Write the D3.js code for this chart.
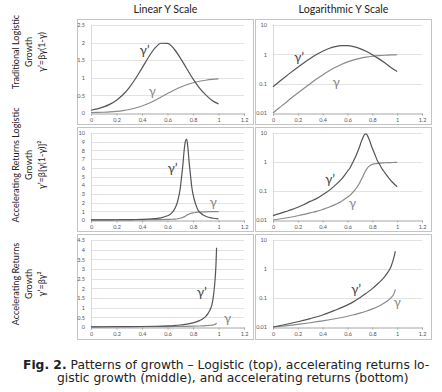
<!DOCTYPE html>
<html>
<head>
<meta charset="utf-8">
<script src="https://cdn.jsdelivr.net/npm/d3@7"></script>
<style>
  body { margin: 0; background: #fff; }
  svg text { fill: #222; }
</style>
</head>
<body>
<svg id="fig" width="442" height="392"></svg>
<script>
// x ticks shared by every panel
var xTicks = [0, 0.2, 0.4, 0.6, 0.8, 1, 1.2];
var logTicks = [0.01, 0.1, 1, 10];
var linTicks1 = [0, 0.5, 1, 1.5, 2, 2.5];
var linTicks2 = [0, 1, 2, 3, 4, 5, 6, 7, 8, 9, 10];
var linTicks3 = [0, 0.5, 1, 1.5, 2, 2.5, 3, 3.5, 4, 4.5];

// traditional logistic growth
var logX  = [0, 0.05, 0.1, 0.15, 0.2, 0.25, 0.3, 0.35, 0.4, 0.45, 0.5, 0.55, 0.6, 0.65, 0.7, 0.75, 0.8, 0.85, 0.9, 0.95, 1];
var logY  = [0.01, 0.015, 0.022, 0.033, 0.048, 0.07, 0.1, 0.143, 0.199, 0.27, 0.356, 0.452, 0.552, 0.648, 0.733, 0.803, 0.859, 0.901, 0.931, 0.953, 0.968];
var logDY = [0.079, 0.117, 0.173, 0.252, 0.364, 0.518, 0.723, 0.979, 1.275, 1.577, 1.834, 1.982, 1.978, 1.825, 1.566, 1.266, 0.969, 0.714, 0.514, 0.358, 0.26];

// accelerating returns logistic growth
var arlX  = [0, 0.05, 0.1, 0.15, 0.2, 0.25, 0.3, 0.35, 0.4, 0.45, 0.5, 0.55, 0.6, 0.62, 0.64, 0.66, 0.68, 0.7, 0.71, 0.72, 0.73, 0.74, 0.75, 0.76, 0.77, 0.78, 0.79, 0.8, 0.82, 0.84, 0.86, 0.88, 0.9, 0.93, 0.96, 1];
var arlY  = [0.01, 0.0108, 0.0117, 0.0127, 0.014, 0.0156, 0.0177, 0.0198, 0.0231, 0.0274, 0.034, 0.0434, 0.0613, 0.0705, 0.0876, 0.109, 0.143, 0.197, 0.244, 0.294, 0.365, 0.446, 0.535, 0.619, 0.693, 0.745, 0.795, 0.827, 0.87, 0.902, 0.919, 0.933, 0.942, 0.953, 0.961, 0.967];
var arlDY = [0.0142, 0.0165, 0.0194, 0.0228, 0.0276, 0.0342, 0.0438, 0.0546, 0.0738, 0.103, 0.156, 0.25, 0.48, 0.623, 0.926, 1.37, 2.18, 3.63, 4.93, 6.25, 7.9, 9.0, 9.3, 8.3, 6.6, 5.2, 3.85, 2.97, 1.85, 1.13, 0.8, 0.567, 0.433, 0.291, 0.204, 0.14];

// accelerating returns growth
var arX  = [0, 0.1, 0.2, 0.3, 0.4, 0.5, 0.6, 0.65, 0.7, 0.75, 0.8, 0.85, 0.88, 0.9, 0.92, 0.94, 0.95, 0.96, 0.97, 0.98, 0.985];
var arY  = [0.01, 0.011, 0.0123, 0.014, 0.0162, 0.0192, 0.0235, 0.0265, 0.03, 0.035, 0.042, 0.052, 0.061, 0.069, 0.079, 0.092, 0.101, 0.113, 0.13, 0.165, 0.2];
var arDY = [0.01, 0.0122, 0.0152, 0.0195, 0.026, 0.038, 0.058, 0.075, 0.103, 0.145, 0.21, 0.33, 0.44, 0.55, 0.72, 0.98, 1.2, 1.6, 2.2, 3.2, 4.1];

var colTitles = ["Linear Y Scale", "Logarithmic Y Scale"];
var rowTitles = [
  ["Traditional Logistic", "Growth", "γ’=βγ(1-γ)"],
  ["Accelerating Returns Logistic", "Growth", "γ’=β[γ(1-γ)]²"],
  ["Accelerating Returns", "Growth", "γ’=βγ²"]
];
// where the γ’ / γ labels sit, in data units [x, y]
var labelPos = [
  [[[0.42, 1.8], [0.48, 0.62]], [[0.21, 0.79], [0.51, 0.117]]],
  [[[0.64, 6.0], [0.96, 2.1]],  [[0.46, 0.26], [0.64, 0.038]]],
  [[[0.87, 1.8], [1.07, 0.47]], [[0.67, 0.2],  [1.0, 0.072]]]
];

var svg = d3.select("#fig");
var cols = [{x0: 77, x1: 254, pl: 91, pr: 244}, {x0: 255, x1: 432, pl: 273, pr: 422}];
var rows = [{y0: 19, y1: 125, pt: 25, pb: 113}, {y0: 127, y1: 232, pt: 133, pb: 220}, {y0: 234, y1: 340, pt: 240, pb: 327}];
var series = [[logX, logY, logDY], [arlX, arlY, arlDY], [arX, arY, arDY]];
var linTicks = [linTicks1, linTicks2, linTicks3];

var smallFont = "Lato, 'Noto Sans', sans-serif";
var capFont = "'DejaVu Sans', Verdana, sans-serif";

// pick a font size so that a sample string is the given width
function fitSize(str, family, weight, target) {
  var t = svg.append("text").style("font-family", family).style("font-size", "20px")
    .style("font-weight", weight).text(str);
  var w = t.node().getComputedTextLength();
  t.remove();
  return 20 * target / w;
}

var titleSize = fitSize("Logarithmic Y Scale", smallFont, "normal", 90);
colTitles.forEach(function(t, i) {
  svg.append("text")
    .attr("x", (cols[i].x0 + cols[i].x1) / 2)
    .attr("y", 13)
    .attr("text-anchor", "middle")
    .style("font-family", smallFont)
    .style("font-size", titleSize + "px")
    .text(t);
});

// row titles, rotated
var rowSize = fitSize("Accelerating Returns Logistic", smallFont, "normal", 115);
var rowCenters = [52, 165, 284];
rowTitles.forEach(function(lines, r) {
  lines.forEach(function(l, k) {
    svg.append("text")
      .attr("transform", "translate(" + (19 + k * 13) + "," + rowCenters[r] + ") rotate(-90)")
      .attr("text-anchor", "middle")
      .style("font-family", smallFont)
      .style("font-size", rowSize + "px")
      .text(l);
  });
});

function drawPanel(r, c) {
  var col = cols[c], row = rows[r];
  var g = svg.append("g");

  g.append("rect")
    .attr("x", col.x0 + 0.5).attr("y", row.y0 + 0.5)
    .attr("width", col.x1 - col.x0 - 1).attr("height", row.y1 - row.y0 - 1)
    .attr("fill", "#fff").attr("stroke", "#c4c4c4");

  var x = d3.scaleLinear().domain([0, 1.2]).range([col.pl, col.pr]);
  var y, ticks;
  if (c == 0) {
    ticks = linTicks[r];
    y = d3.scaleLinear().domain([0, ticks[ticks.length - 1]]).range([row.pb, row.pt]);
  } else {
    ticks = logTicks;
    y = d3.scaleLog().domain([0.01, 10]).range([row.pb, row.pt]);
  }

  // gridlines
  g.selectAll(".grid").data(ticks.slice(1)).enter().append("line")
    .attr("x1", col.pl).attr("x2", col.pr)
    .attr("y1", function(d) { return Math.round(y(d)) + 0.5; })
    .attr("y2", function(d) { return Math.round(y(d)) + 0.5; })
    .attr("stroke", "#dadada").attr("stroke-width", 0.8);

  g.append("line")
    .attr("x1", col.pl + 0.5).attr("x2", col.pl + 0.5)
    .attr("y1", row.pt).attr("y2", row.pb)
    .attr("stroke", "#d0d0d0").attr("stroke-width", 0.8);

  var xAxis = d3.axisBottom(x).tickValues(xTicks).tickSize(2).tickFormat(function(d) { return String(d); });
  var ax = g.append("g").attr("transform", "translate(0," + (Math.round(row.pb) + 0.5) + ")").call(xAxis);
  ax.select(".domain").attr("stroke", "#a6a6a6");
  ax.selectAll(".tick line").attr("stroke", "#a6a6a6");
  ax.selectAll("text").style("font-family", smallFont).style("font-size", "5.5px").attr("y", 5).style("fill", "#555");

  var yAxis = d3.axisLeft(y).tickValues(ticks).tickSize(0).tickPadding(6).tickFormat(function(d) { return String(d); });
  var ay = g.append("g").attr("transform", "translate(" + col.pl + ",0)").call(yAxis);
  ay.select(".domain").remove();
  ay.selectAll("text").style("font-family", smallFont).style("font-size", "5.5px").style("fill", "#555");

  var s = series[r];
  var line = d3.line()
    .x(function(d) { return x(d[0]); })
    .y(function(d) { return y(d[1]); })
    .curve(d3.curveMonotoneX);

  g.append("path").datum(d3.zip(s[0], s[1]))
    .attr("d", line).attr("fill", "none")
    .attr("stroke", "#8a8a8a").attr("stroke-width", 1.2);
  g.append("path").datum(d3.zip(s[0], s[2]))
    .attr("d", line).attr("fill", "none")
    .attr("stroke", "#555").attr("stroke-width", 1.2);

  var lp = labelPos[r][c];
  g.append("text")
    .attr("x", x(lp[0][0])).attr("y", y(lp[0][1]))
    .attr("text-anchor", "middle").attr("dominant-baseline", "central")
    .style("font-family", smallFont).style("font-size", "13px").style("fill", "#444")
    .text("γ’");
  g.append("text")
    .attr("x", x(lp[1][0])).attr("y", y(lp[1][1]))
    .attr("text-anchor", "middle").attr("dominant-baseline", "central")
    .style("font-family", smallFont).style("font-size", "13px").style("fill", "#888")
    .text("γ");
}

for (var r = 0; r < 3; r++) {
  for (var c = 0; c < 2; c++) drawPanel(r, c);
}

// caption, sized so the first line spans the same width as in the figure
var line1 = " Patterns of growth – Logistic (top), accelerating returns lo-";
var capSize = (function() {
  var t = svg.append("text").style("font-family", capFont).style("font-size", "20px");
  t.append("tspan").style("font-weight", "bold").text("Fig. 2.");
  t.append("tspan").text(line1);
  var w = t.node().getComputedTextLength();
  t.remove();
  return 20 * 407 / w;
})();
var cap = svg.append("text").attr("x", 23).attr("y", 369)
  .style("font-family", capFont).style("font-size", capSize + "px");
cap.append("tspan").style("font-weight", "bold").text("Fig. 2.");
cap.append("tspan").text(line1);
svg.append("text").attr("x", 57).attr("y", 382)
  .style("font-family", capFont).style("font-size", capSize + "px")
  .text("gistic growth (middle), and accelerating returns (bottom)");
</script>
</body>
</html>
